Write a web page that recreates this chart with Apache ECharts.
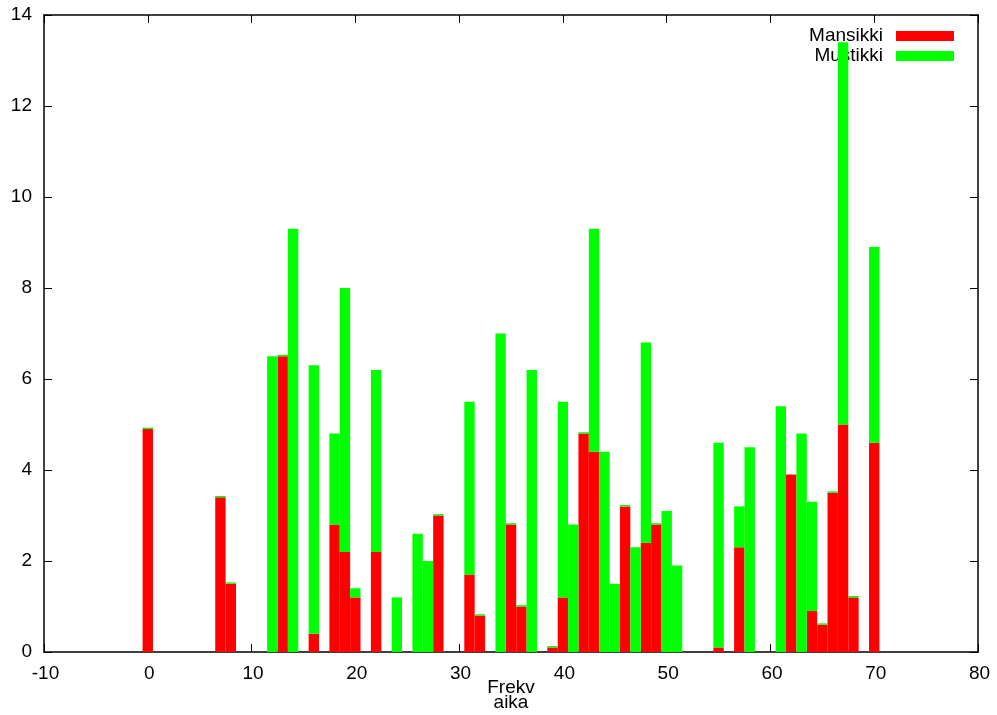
<!DOCTYPE html>
<html>
<head>
<meta charset="utf-8">
<script src="https://cdn.jsdelivr.net/npm/echarts@6/dist/echarts.min.js"></script>
<style>
html,body{margin:0;padding:0;background:#fff;}
#chart{width:997px;height:715px;}
</style>
</head>
<body>
<div id="chart"></div>
<script>
// x positions (Frekv / aika)
const xs = [0, 7, 8, 12, 13, 14, 16, 18, 19, 20, 22, 24, 26, 27, 28, 31, 32, 34, 35, 36, 37, 39, 40, 41, 42, 43, 44, 45, 46, 47, 48, 49, 50, 51, 55, 57, 58, 61, 62, 63, 64, 65, 66, 67, 68, 70];
// Mansikki (bottom, red)
const mansikki = [4.9, 3.4, 1.5, 0, 6.5, 0, 0.4, 2.8, 2.2, 1.2, 2.2, 0, 0, 0, 3.0, 1.7, 0.8, 0, 2.8, 1.0, 0, 0.1, 1.2, 0, 4.8, 4.4, 0, 0, 3.2, 0, 2.4, 2.8, 0, 0, 0.1, 2.3, 0, 0, 3.9, 0, 0.9, 0.6, 3.5, 5.0, 1.2, 4.6];
// Mustikki (stacked on top, green)
const mustikki = [0.03, 0.03, 0.03, 6.5, 0.03, 9.3, 5.9, 2.0, 5.8, 0.2, 4.0, 1.2, 2.6, 2.0, 0.03, 3.8, 0.03, 7.0, 0.03, 0.03, 6.2, 0.03, 4.3, 2.8, 0.03, 4.9, 4.4, 1.5, 0.03, 2.3, 4.4, 0.03, 3.1, 1.9, 4.5, 0.9, 4.5, 5.4, 0, 4.8, 2.4, 0.03, 0.03, 8.4, 0.03, 4.3];
const seriesNames = ['Mansikki', 'Mustikki'];
const xTitle = 'Frekv\naika';

const FONT = '"Liberation Sans", Arial, Helvetica, sans-serif';
const chart = echarts.init(document.getElementById('chart'), null, {renderer: 'canvas'});

const tick = {show: true, inside: true, length: 8, lineStyle: {color: '#000', width: 1}};
const line = {show: true, onZero: false, lineStyle: {color: '#000', width: 1.5}};
const lab = {color: '#000', fontSize: 19, fontFamily: FONT};

// value column first so that stacking is applied to the y values
const toData = (vals) => xs.map((x, i) => [vals[i], x]);

chart.setOption({
  animation: false,
  backgroundColor: '#fff',
  grid: {left: 44, right: 19, top: 15, bottom: 63, containLabel: false, outerBoundsMode: 'none'},
  legend: {
    data: seriesNames,
    orient: 'vertical',
    right: 38,
    top: 21,
    align: 'right',
    itemWidth: 58,
    itemHeight: 10,
    itemGap: 0,
    z: 1,
    icon: 'rect',
    textStyle: {color: '#000', fontSize: 19, fontFamily: FONT, lineHeight: 20, padding: [0, 8, 0, 0]}
  },
  xAxis: [{
    type: 'value', min: -10, max: 80, interval: 10, position: 'bottom',
    axisLine: line, axisTick: tick, splitLine: {show: false},
    axisLabel: Object.assign({margin: 12, padding: [0, 0, 0, 3]}, lab),
    name: xTitle, nameLocation: 'middle', nameGap: 28, nameMoveOverlap: false,
    nameTextStyle: {color: '#000', fontSize: 19, fontFamily: FONT, lineHeight: 15, verticalAlign: 'top'}
  }, {
    type: 'value', min: -10, max: 80, interval: 10, position: 'top',
    axisLine: line, axisTick: tick, splitLine: {show: false}, axisLabel: {show: false}
  }],
  yAxis: [{
    type: 'value', min: 0, max: 14, interval: 2, position: 'left',
    axisLine: line, axisTick: tick, splitLine: {show: false},
    axisLabel: Object.assign({margin: 12}, lab)
  }, {
    type: 'value', min: 0, max: 14, interval: 2, position: 'right',
    axisLine: line, axisTick: tick, splitLine: {show: false}, axisLabel: {show: false}
  }],
  series: [{
    name: seriesNames[0], type: 'bar', stack: 'total', barWidth: '100%', z: 2,
    encode: {x: 1, y: 0},
    itemStyle: {color: '#ff0000'},
    data: toData(mansikki)
  }, {
    name: seriesNames[1], type: 'bar', stack: 'total', barWidth: '100%', z: 2,
    encode: {x: 1, y: 0},
    itemStyle: {color: '#00ff00'},
    data: toData(mustikki)
  }]
});
</script>
</body>
</html>
